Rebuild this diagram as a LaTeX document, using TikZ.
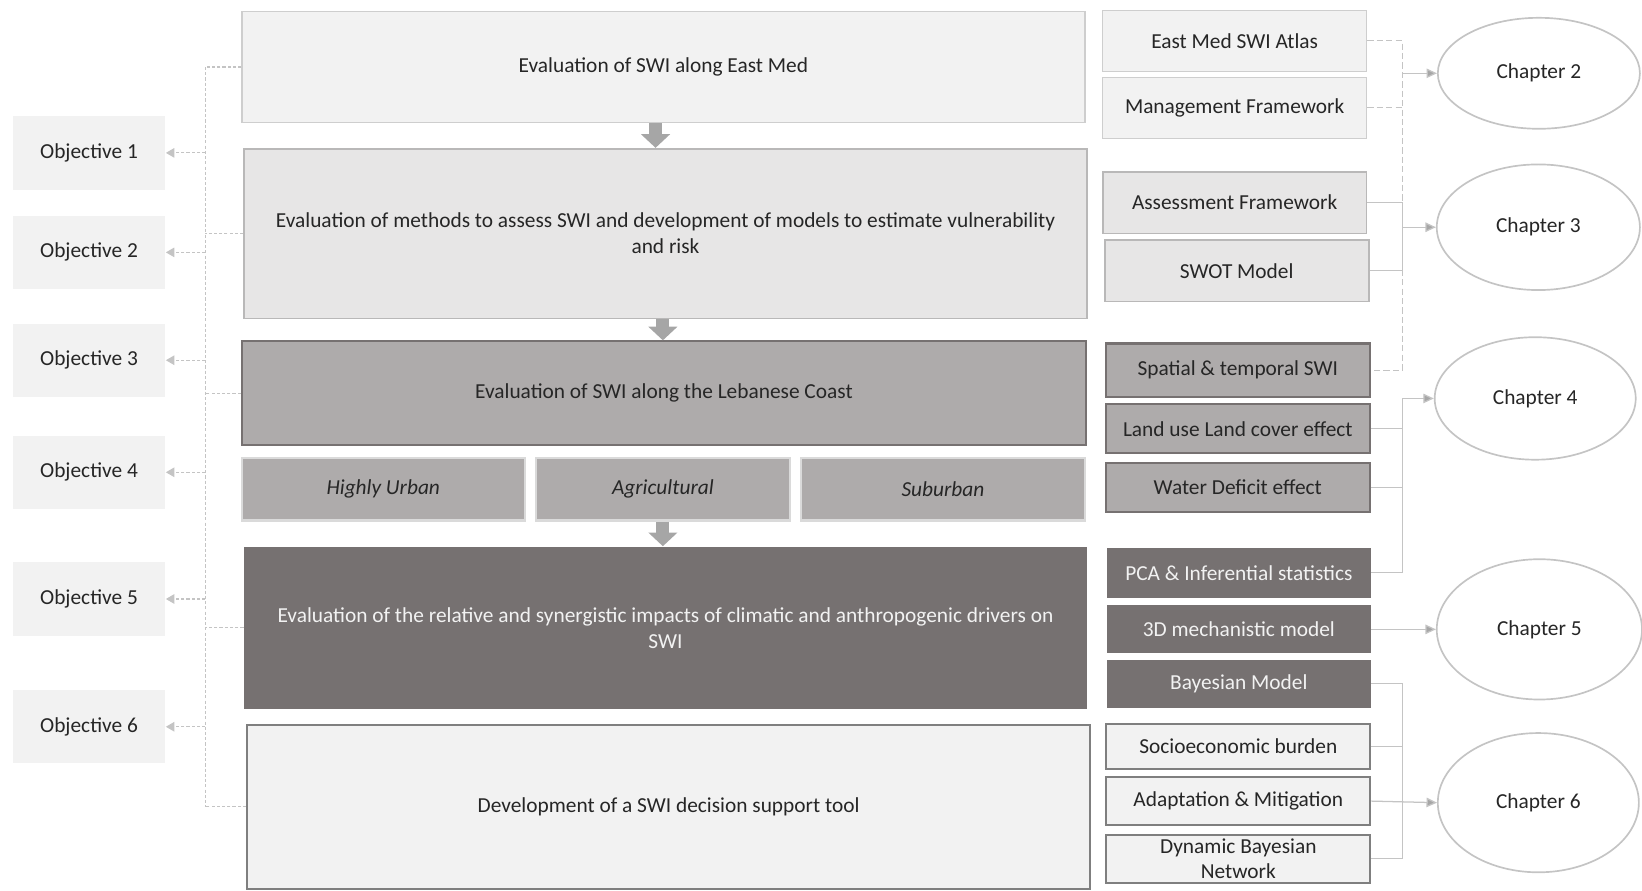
\documentclass[tikz,border=0pt]{standalone}
\usepackage{fontspec}
\setmainfont{Carlito}
\usetikzlibrary{arrows.meta,shapes.geometric}

\definecolor{paleGrey}{HTML}{F2F2F2}
\definecolor{lightGrey}{HTML}{E7E6E6}
\definecolor{midGrey}{HTML}{AEABAB}
\definecolor{darkGrey}{HTML}{767171}
\definecolor{edgeGrey}{HTML}{7F7F7F}
\definecolor{lineGrey}{HTML}{C4C4C4}
\definecolor{tipGrey}{HTML}{A6A6A6}
\definecolor{inkGrey}{HTML}{262626}

\tikzset{
        box/.style={rectangle, inner sep=2pt, align=center, text=inkGrey, font=\fontsize{10.2}{12.5}\selectfont},
        palebox/.style={box, fill=paleGrey, draw=paleGrey!85!black, line width=0.6pt},
        lightbox/.style={box, fill=lightGrey, draw=lightGrey!80!black, line width=0.8pt},
        midbox/.style={box, fill=midGrey, draw=darkGrey, line width=1pt},
        subbox/.style={box, fill=midGrey, draw=paleGrey!90!black, line width=1pt, font=\fontsize{10.2}{12.5}\selectfont\itshape},
        darkbox/.style={box, fill=darkGrey, text=paleGrey},
        framebox/.style={box, fill=paleGrey, draw=edgeGrey, line width=1pt},
        objbox/.style={box, fill=paleGrey, minimum width=73pt, minimum height=35pt},
        sidebox/.style={minimum width=126pt},
        chapter/.style={ellipse, draw=lineGrey, fill=white, line width=0.8pt, text=inkGrey, font=\fontsize{10.2}{12.5}\selectfont},
        blockarrow/.style={draw=tipGrey, line width=6.25pt, -{Triangle[width=13.5pt,length=6.5pt]}},
        dotline/.style={draw=lineGrey, line width=0.5pt, dash pattern=on 1.5pt off 1pt},
        dotarrow/.style={dotline, -{Triangle[width=4.5pt,length=4pt,fill=lineGrey]}},
        dashline/.style={draw=lineGrey, line width=0.6pt, dash pattern=on 3pt off 1.5pt},
        conline/.style={draw=lineGrey, line width=0.6pt},
        conarrow/.style={conline, -{Triangle[width=4.5pt,length=5pt,fill=tipGrey]}}
}

\begin{document}
\begin{tikzpicture}[x=0.5pt,y=-0.5pt]
        \useasboundingbox (0,0) rectangle (1568,850);

        \node[palebox, minimum width=402.5pt, minimum height=53pt] (evalmed) at (633.5,64) {Evaluation of SWI along East Med};
        \node[lightbox, minimum width=402.5pt, minimum height=81pt] (evalmeth) at (635.5,223) {Evaluation of methods to assess SWI and development of models to estimate vulnerability\\and risk};
        \node[midbox, minimum width=403pt, minimum height=49.5pt] (evalleb) at (634,375.5) {Evaluation of SWI along the Lebanese Coast};
        \node[subbox, minimum width=135pt, minimum height=30pt] (urban) at (366,467) {Highly Urban};
        \node[subbox, minimum width=121pt, minimum height=30pt] (agri) at (633,467) {Agricultural};
        \node[subbox, minimum width=135.5pt, minimum height=30pt] (suburb) at (900.5,467) {Suburban};
        \node[darkbox, minimum width=402.5pt, minimum height=77.5pt] (evaldrv) at (635.5,599.5) {Evaluation of the relative and synergistic impacts of climatic and anthropogenic drivers on\\SWI};
        \node[framebox, minimum width=402.5pt, minimum height=78.5pt] (dst) at (638.5,770.5) {Development of a SWI decision support tool};

        \node[objbox] (obj1) at (85,146) {Objective 1};
        \node[objbox] (obj2) at (85,241) {Objective 2};
        \node[objbox] (obj3) at (85,344) {Objective 3};
        \node[objbox] (obj4) at (85,451) {Objective 4};
        \node[objbox] (obj5) at (85,572) {Objective 5};
        \node[objbox] (obj6) at (85,694) {Objective 6};

        \node[palebox, sidebox, minimum height=29pt] (atlas) at (1179,39) {East Med SWI Atlas};
        \node[palebox, sidebox, minimum height=29pt] (mgmt) at (1179,103) {Management Framework};
        \node[lightbox, sidebox, minimum height=29.5pt] (assess) at (1179,193.5) {Assessment Framework};
        \node[lightbox, sidebox, minimum height=29.5pt] (swot) at (1181,258.5) {SWOT Model};
        \node[midbox, sidebox, minimum height=25.5pt] (spatial) at (1182,353.5) {Spatial \& temporal SWI};
        \node[midbox, sidebox, minimum height=23.5pt] (landuse) at (1182,409.5) {Land use Land cover effect};
        \node[midbox, sidebox, minimum height=23.5pt] (water) at (1182,465.5) {Water Deficit effect};
        \node[darkbox, sidebox, minimum height=24pt] (pca) at (1183,547) {PCA \& Inferential statistics};
        \node[darkbox, sidebox, minimum height=23pt] (mech) at (1183,601) {3D mechanistic model};
        \node[darkbox, sidebox, minimum height=23pt] (bayes) at (1183,653) {Bayesian Model};
        \node[framebox, sidebox, minimum height=21.5pt] (socio) at (1182.5,712.5) {Socioeconomic burden};
        \node[framebox, sidebox, minimum height=23pt] (adapt) at (1182.5,765) {Adaptation \& Mitigation};
        \node[framebox, sidebox, minimum height=23pt, inner sep=0pt, font=\fontsize{10.2}{11.5}\selectfont] (dbn) at (1182.5,820) {Dynamic Bayesian\\Network};

        \node[chapter, minimum width=96.5pt, minimum height=53pt] (ch2) at (1469.5,70) {Chapter 2};
        \node[chapter, minimum width=97pt, minimum height=60pt] (ch3) at (1469,217) {Chapter 3};
        \node[chapter, minimum width=96pt, minimum height=58.5pt] (ch4) at (1466,380.5) {Chapter 4};
        \node[chapter, minimum width=98pt, minimum height=67pt] (ch5) at (1470,601) {Chapter 5};
        \node[chapter, minimum width=96pt, minimum height=66.5pt] (ch6) at (1469,766.5) {Chapter 6};

        \coordinate (a1) at (626,0);
        \coordinate (a2) at (633,0);
        \draw[blockarrow] (evalmed.south -| a1) -- (evalmeth.north -| a1);
        \draw[blockarrow] (evalmeth.south -| a2) -- (evalleb.north -| a2);
        \draw[blockarrow] (agri.south -| a2) -- (evaldrv.north -| a2);

        \coordinate (lt) at (196,64);
        \coordinate (lb) at (196,771);
        \draw[dotline] (lt) -- (lb);
        \draw[dotline] (evalmed.west) -- (evalmed.west -| lt);
        \draw[dotline] (evalmeth.west) -- (evalmeth.west -| lt);
        \draw[dotline] (evalleb.west) -- (evalleb.west -| lt);
        \draw[dotline] (evaldrv.west) -- (evaldrv.west -| lt);
        \draw[dotline] (dst.west) -- (dst.west -| lt);
        \foreach \o in {obj1,obj2,obj3,obj4,obj5,obj6}
                \draw[dotarrow] (\o.east -| lt) -- (\o.east);

        \coordinate (rt) at (1339,0);
        \draw[dashline] (atlas.east) -- (atlas.east -| rt) -- (spatial.east -| rt) -- (spatial.east);
        \draw[dashline] (mgmt.east) -- (mgmt.east -| rt);
        \draw[conarrow] (ch2.west -| rt) -- (ch2.west);

        \draw[conline] (assess.east) -- (assess.east -| rt) -- (swot.east -| rt) -- (swot.east);
        \draw[conarrow] (ch3.west -| rt) -- (ch3.west);

        \draw[conline] (landuse.east) -- (landuse.east -| rt);
        \draw[conline] (water.east) -- (water.east -| rt);
        \draw[conline] (pca.east) -- (pca.east -| rt) -- (ch4.west -| rt);
        \draw[conarrow] (ch4.west -| rt) -- (ch4.west);

        \draw[conarrow] (mech.east) -- (ch5.west);

        \draw[conline] (bayes.east) -- (bayes.east -| rt) -- (dbn.east -| rt) -- (dbn.east);
        \draw[conline] (socio.east) -- (socio.east -| rt);
        \draw[conarrow] (adapt.east) -- (ch6.west);
\end{tikzpicture}
\end{document}
